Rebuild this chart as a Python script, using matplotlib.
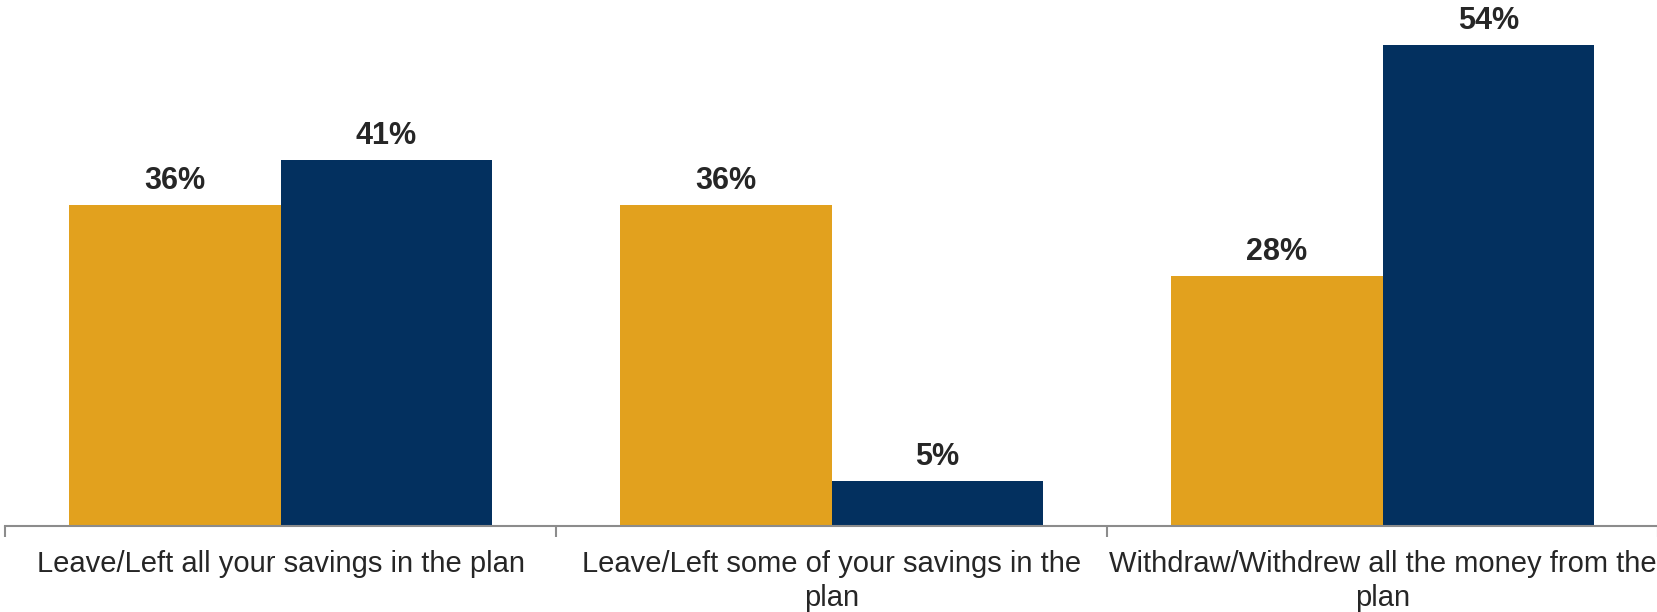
import numpy as np
import matplotlib.pyplot as plt

plt.rcParams['font.family'] = ['Liberation Sans', 'DejaVu Sans']

categories = [
    "Leave/Left all your savings in the plan",
    "Leave/Left some of your savings in the\nplan",
    "Withdraw/Withdrew all the money from the\nplan",
]
series_a = [36, 36, 28]
series_b = [41, 5, 54]

orange = "#E2A11E"
navy = "#03305F"
text_color = "#262626"

fig = plt.figure(figsize=(16.58, 6.12), dpi=100)
ax = fig.add_axes([0.0032, 0.1412, 0.9968, 0.8588])

x = np.arange(len(categories))
w = 0.384
bars_a = ax.bar(x - w / 2, series_a, w, color=orange)
bars_b = ax.bar(x + w / 2, series_b, w, color=navy)

for bars in (bars_a, bars_b):
    for b in bars:
        ax.annotate(f"{b.get_height():.0f}%",
                    (b.get_x() + b.get_width() / 2, b.get_height()),
                    xytext=(0, 6.5), textcoords="offset points",
                    ha="center", va="bottom", fontsize=22,
                    fontweight="bold", color=text_color)

ax.set_xlim(-0.5, 2.5)
ax.set_ylim(0, 59)
ax.set_yticks([])
ax.set_xticks(x)
ax.set_xticklabels(categories, fontsize=21, color=text_color, linespacing=1.27)
ax.tick_params(axis="x", which="major", length=0, pad=17.5)
ax.set_xticks([-0.5, 0.5, 1.5, 2.5], minor=True)
ax.tick_params(axis="x", which="minor", length=8, width=1.5, color="#8c8c8c")

for s in ("top", "right", "left"):
    ax.spines[s].set_visible(False)
ax.spines["bottom"].set_color("#8c8c8c")
ax.spines["bottom"].set_linewidth(1.5)

fig.savefig("out.png", dpi=100)
